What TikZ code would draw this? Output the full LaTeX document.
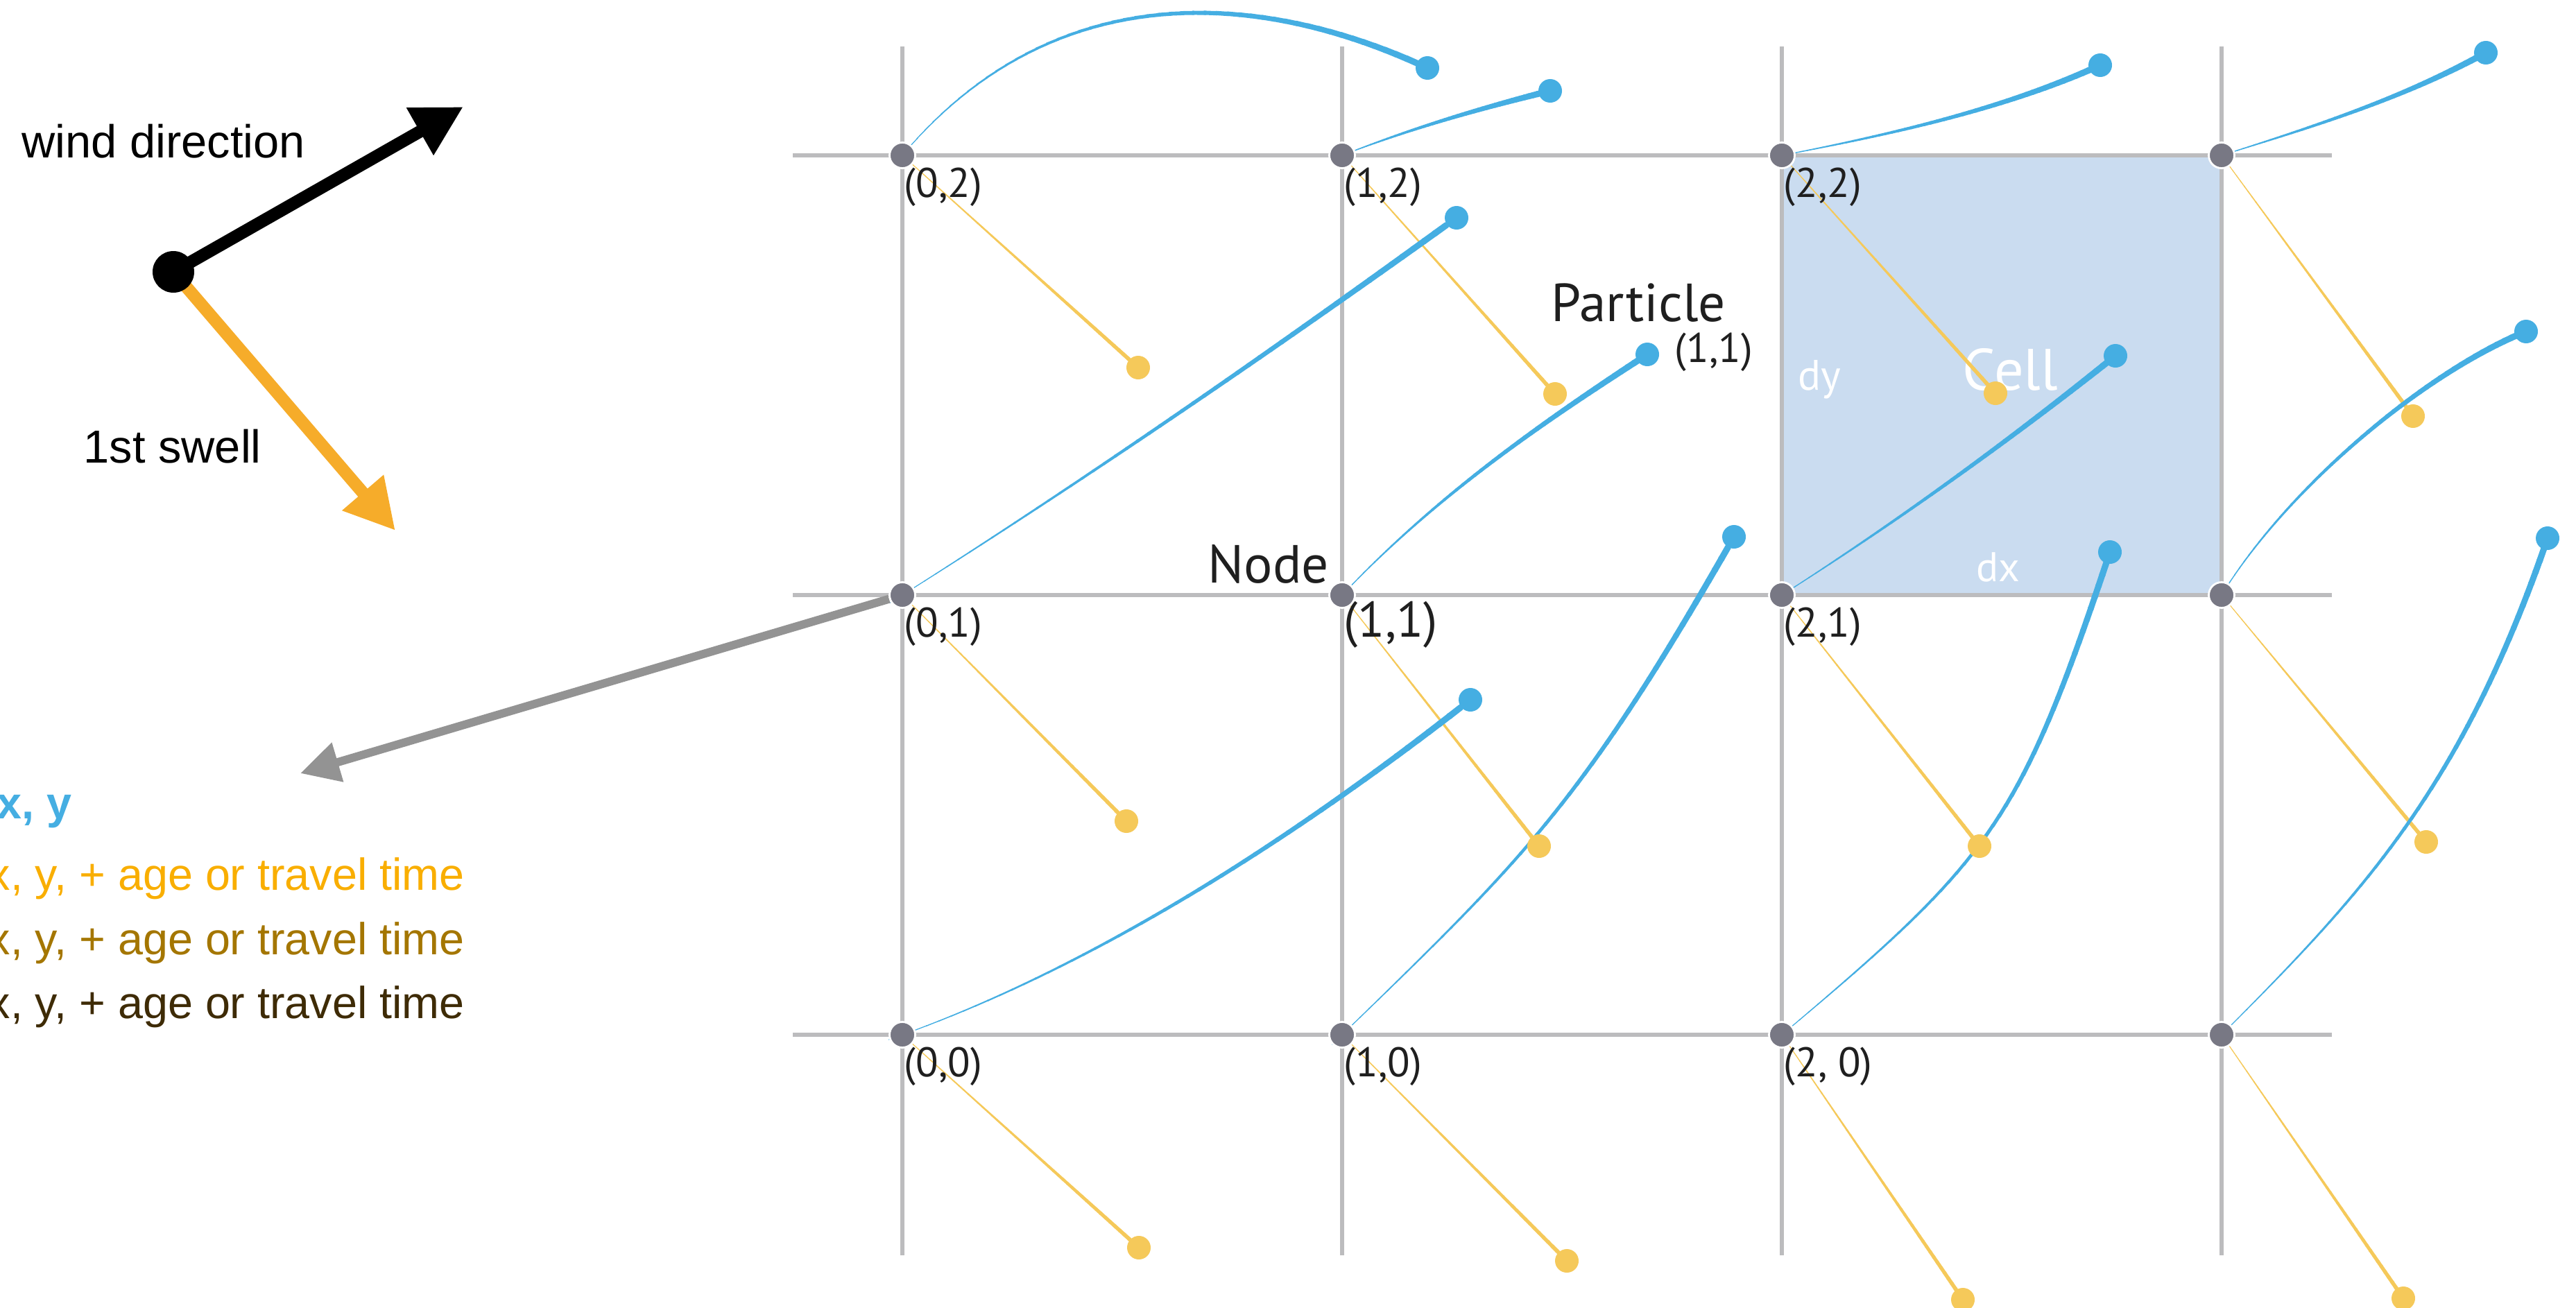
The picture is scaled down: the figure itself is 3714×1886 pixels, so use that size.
\documentclass[tikz,border=0pt]{standalone}
\usepackage{fontspec}
\setmainfont{Liberation Sans}
\newfontfamily\labelfont{PT Sans}
\usetikzlibrary{arrows.meta,decorations.markings}

\definecolor{gridgray}{HTML}{BCBCBE}
\definecolor{nodegray}{HTML}{787884}
\definecolor{cellblue}{HTML}{CADCF0}
\definecolor{pblue}{HTML}{45AEE2}
\definecolor{pyellow}{HTML}{F5C95A}
\definecolor{swellorange}{HTML}{F6AC2A}
\definecolor{arrowgray}{HTML}{939393}
\definecolor{legorange}{HTML}{F9AE00}
\definecolor{legbrown}{HTML}{A47600}
\definecolor{legdark}{HTML}{3E2B06}

\pgfdeclarelayer{back}
\pgfsetlayers{back,main}

\tikzset{
  gridline/.style={gridgray, line width=1.5pt},
  gridnode/.style={circle, fill=nodegray, draw=white, line width=0.8pt, minimum size=3.7mm, inner sep=0pt},
  pdot/.style={circle, fill=#1, minimum size=3.4mm, inner sep=0pt},
  taper/.style 2 args={#1, line width=0.15pt, postaction={decorate, decoration={markings,
      mark=between positions 0 and 1 step 0.02 with {
        \pgfmathsetmacro\seglen{0.022*\pgfdecoratedpathlength}
        \draw[#1, line cap=round, line width={0.2pt+2*#2*0.02*\pgfkeysvalueof{/pgf/decoration/mark info/sequence number}}]
          (180:\seglen pt) -- (0,0);}}}},
  coordlabel/.style={font=\labelfont\fontsize{#1}{#1}\selectfont, anchor=base west, inner sep=0pt, text=black!88},
  coordlabel/.default=17,
  celltext/.style={font=\labelfont\fontsize{#1}{#1}\selectfont, anchor=base west, inner sep=0pt, text=white},
  windtext/.style={font=\fontsize{19}{19}\selectfont, anchor=base west, inner sep=0pt},
  legend/.style={font=\fontsize{18.4}{18.4}\selectfont, anchor=base west, inner sep=0pt, text=#1},
  windarrow/.style={line width=5.1pt, -{Triangle[length=20.5pt, width=21pt]}},
}

\begin{document}
\begin{tikzpicture}[x=0.1mm, y=-0.1mm]
\useasboundingbox (0,0) rectangle (3714,1886);

% grid nodes
\foreach \i in {0,...,3}
  \foreach \j in {0,1,2}
    \node[gridnode] (n\i\j) at ({1301+634*\i},{1492-634*\j}) {};

% particles
\foreach \k/\x/\y in {02/2058/98, 12/2235/131, 22/3028/94, 32/3584/76,
                      01/2100/314, 11/2375/511, 21/3050/513, 31/3642/478,
                      00/2120/1009, 10/2500/774, 20/3042/796, 30/3673/776}
  \node[pdot=pblue] (b\k) at (\x,\y) {};
\foreach \k/\x/\y in {02/1641/530, 12/2242/568, 22/2877/567, 32/3479/600,
                      01/1624/1184, 11/2219/1220, 21/2854/1220, 31/3498/1214,
                      00/1642/1799, 10/2259/1818, 20/2830/1874, 30/3465/1872}
  \node[pdot=pyellow] (y\k) at (\x,\y) {};

% labels
\node[coordlabel] (l02) at (1303,284) {(0,2)};
\node[coordlabel] (l12) at (1937,284) {(1,2)};
\node[coordlabel] (l22) at (2571,284) {(2,2)};
\node[coordlabel] (l01) at (1303,918) {(0,1)};
\node[coordlabel=20.5] (l11) at (1937,918) {(1,1)};
\node[coordlabel] (l21) at (2571,918) {(2,1)};
\node[coordlabel] (l00) at (1303,1552) {(0,0)};
\node[coordlabel] (l10) at (1937,1552) {(1,0)};
\node[coordlabel] (l20) at (2571,1552) {(2, 0)};
\node[coordlabel] (lpart) at (2414,522) {(1,1)};
\node[coordlabel=22] (tnode) at (1741,840) {Node};
\node[coordlabel=22] (tpart) at (2236,463) {Particle};

% wind and swell
\node[circle, fill=black, minimum size=6mm, inner sep=0pt] (wdot) at (250,392) {};
\coordinate (wtip) at (668,154);
\coordinate (stip) at (570,765);
\coordinate (ctip) at (433,1115);
\node[windtext] (twind) at (31,227) {wind direction};
\node[windtext] (tswell) at (120,667) {1st swell};

% legend
\node[legend=pblue, font=\fontsize{18.4}{18.4}\selectfont\bfseries] (lg1) at (-5,1180) {x, y};
\node[legend=legorange] (lg2) at (-18,1283) {x, y, + age or travel time};
\node[legend=legbrown] (lg3) at (-18,1376) {x, y, + age or travel time};
\node[legend=legdark] (lg4) at (-18,1468) {x, y, + age or travel time};

\begin{pgfonlayer}{back}
  \fill[cellblue] (n21.center) rectangle (n32.center);
  \foreach \j in {0,1,2}
    \draw[gridline] (1143,{1492-634*\j}) -- (3362,{1492-634*\j});
  \foreach \i in {0,...,3}
    \draw[gridline] ({1301+634*\i},67) -- ({1301+634*\i},1810);
  \node[celltext=17.5] (tdy) at (2592,562) {dy};
  \node[celltext=24] (tcell) at (2829,562) {Cell};
  \node[celltext=17] (tdx) at (2849,838) {dx};

  % swell drift
  \foreach \k in {02,12,22,32,01,11,21,31,00,10,20,30}
    \draw[taper={pyellow}{0.7pt}] (n\k.center) -- (y\k.center);

  % wind drift
  \foreach \k/\ax/\ay/\bx/\by in {02/1513/-28/1804/-20, 12/2035/185/2135/156,
      22/2720/195/2888/158, 32/3330/184/3460/144, 01/1567/690/1834/506,
      11/2075/710/2235/602, 21/2729/756/2890/641, 31/3300/700/3500/535,
      00/1570/1395/1850/1221, 10/2200/1235/2281/1157, 20/2871/1238/2912/1186,
      30/3411/1284/3550/1133}
    \draw[taper={pblue}{1.2pt}] (n\k.center) .. controls (\ax,\ay) and (\bx,\by) .. (b\k.center);

  \draw[arrowgray, line width=3.4pt, -{Triangle[length=16pt, width=16pt]}] (n01) -- (ctip);
  \draw[windarrow, swellorange] (wdot.center) -- (stip);
  \draw[windarrow, black] (wdot.center) -- (wtip);
\end{pgfonlayer}
\end{tikzpicture}
\end{document}
